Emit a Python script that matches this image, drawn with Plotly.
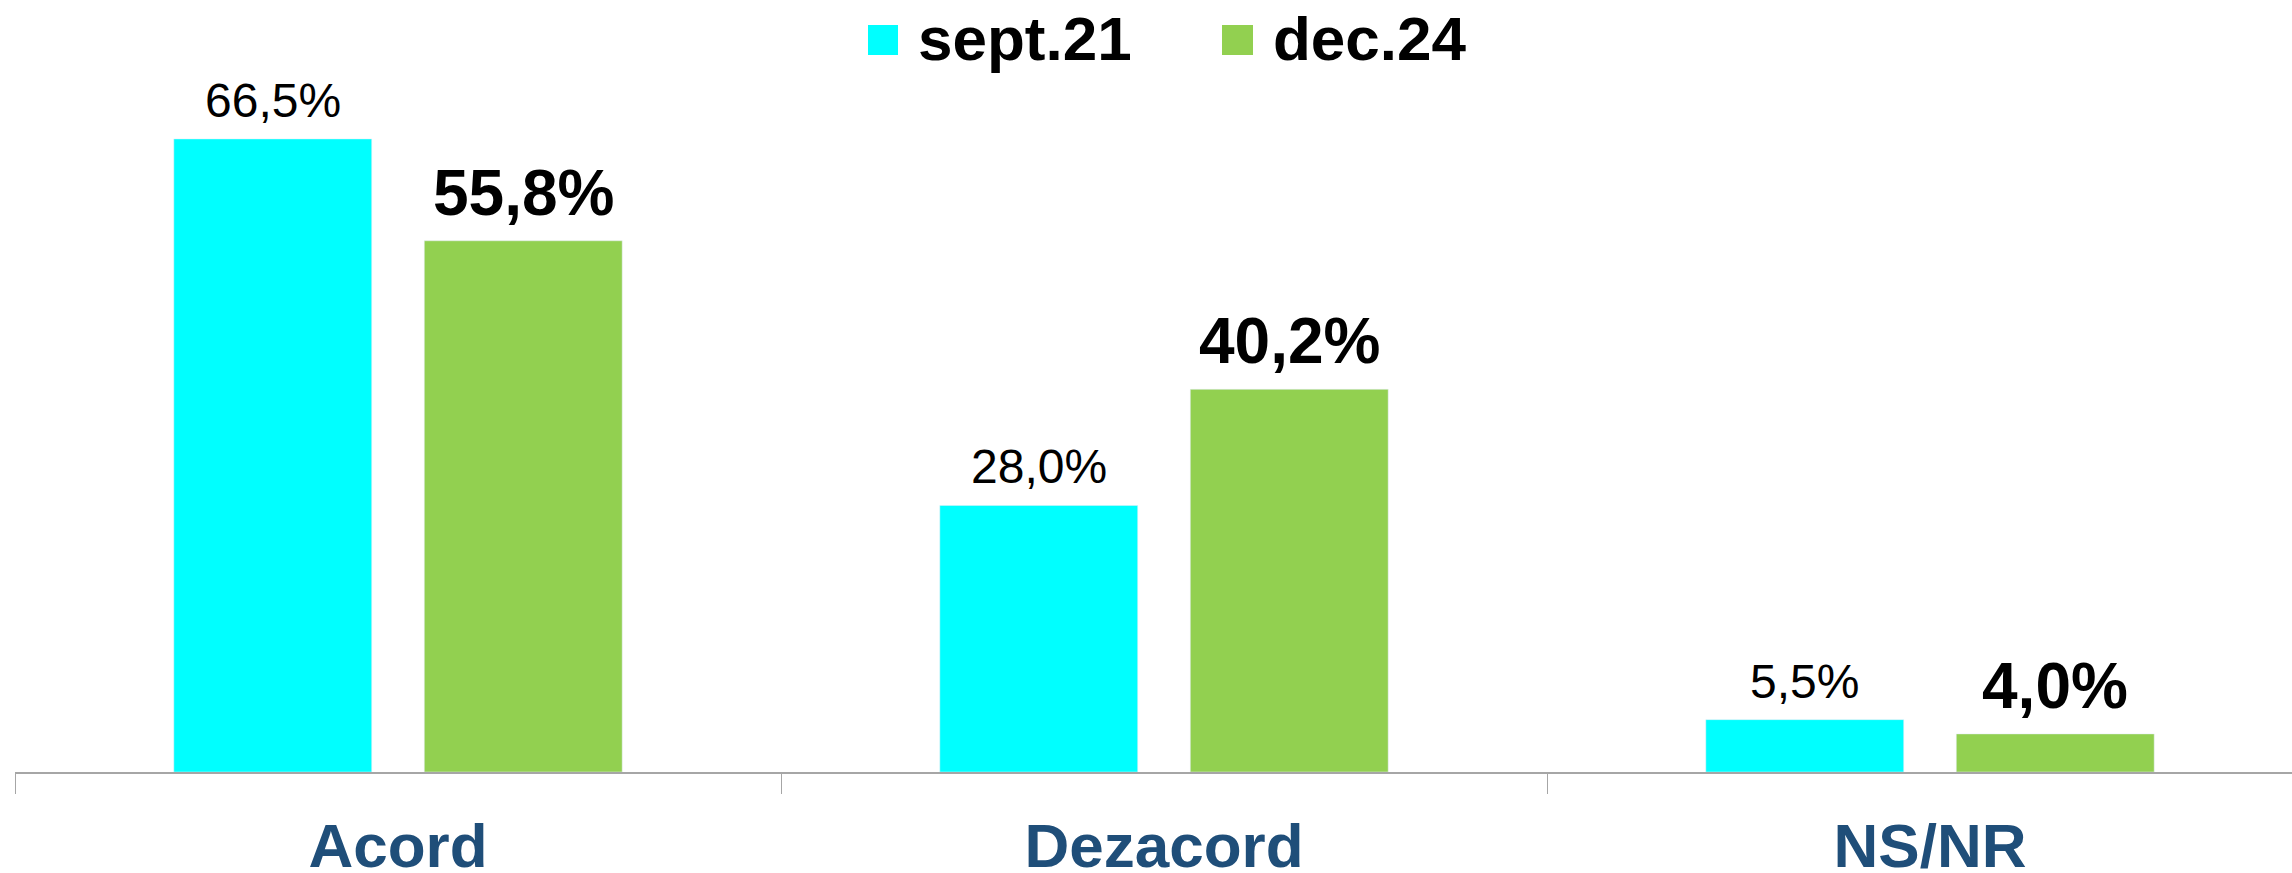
import plotly.graph_objects as go

categories = ["Acord", "Dezacord", "NS/NR"]
series_names = ["sept.21", "dec.24"]
sept21 = [66.5, 28.0, 5.5]
dec24 = [55.8, 40.2, 4.0]
colors = ["#00FFFF", "#92D050"]

W, H = 2292, 873
ML, MT, MB = 15, 100, 101
plot_w = W - ML
plot_h = H - MT - MB
CAT_PX = 766.0
BARGAP, BARGROUPGAP = 0.346, 0.21

def fmt(v):
    return f"{v:.1f}%".replace(".", ",")

fig = go.Figure()
fig.add_trace(go.Bar(x=categories, y=sept21, name=series_names[0], marker_color=colors[0]))
fig.add_trace(go.Bar(x=categories, y=dec24, name=series_names[1], marker_color=colors[1]))

# data labels as annotations above each bar
slot_px = CAT_PX * (1 - BARGAP) / 2
label_styles = [
    dict(size=48, bold=False),
    dict(size=64, bold=True),
]
annotations = []
for i, vals in enumerate([sept21, dec24]):
    xshift = (i - 0.5) * slot_px
    for cat, v in zip(categories, vals):
        t = fmt(v)
        if label_styles[i]["bold"]:
            t = f"<b>{t}</b>"
        annotations.append(dict(
            x=cat, y=v, xref="x", yref="y", text=t, showarrow=False,
            xanchor="center", yanchor="bottom", xshift=xshift, yshift=10,
            font=dict(family="Arial, Liberation Sans", size=label_styles[i]["size"], color="#000000"),
        ))

# manual legend (large square markers)
def px_to_paper_x(px):
    return (px - ML) / plot_w

def px_to_paper_y(py):
    return (H - MB - py) / plot_h

shapes = []
leg_sq = [(868, 898), (1222, 1253)]
leg_tx = [916, 1271]
for i, name in enumerate(series_names):
    x0, x1 = leg_sq[i]
    shapes.append(dict(type="rect", xref="paper", yref="paper",
                       x0=px_to_paper_x(x0), x1=px_to_paper_x(x1),
                       y0=px_to_paper_y(55), y1=px_to_paper_y(25),
                       fillcolor=colors[i], line=dict(width=0)))
    annotations.append(dict(text=f"<b>{name}</b>", xref="paper", yref="paper",
                            x=px_to_paper_x(leg_tx[i]), y=px_to_paper_y(39),
                            xanchor="left", yanchor="middle", showarrow=False,
                            font=dict(family="Arial, Liberation Sans", size=62, color="#000000")))

fig.update_layout(
    width=W, height=H,
    margin=dict(l=ML, r=0, t=MT, b=MB, autoexpand=False),
    paper_bgcolor="white", plot_bgcolor="white",
    barmode="group", bargap=BARGAP, bargroupgap=BARGROUPGAP,
    showlegend=False,
    shapes=shapes, annotations=annotations,
    xaxis=dict(
        automargin=False,
        range=[-0.5, -0.5 + plot_w / CAT_PX],
        showline=True, linecolor="#A6A6A6", linewidth=2,
        ticks="outside", tickson="boundaries", ticklen=20, tickcolor="#A6A6A6", tickwidth=1,
        ticklabelstandoff=19,
        tickfont=dict(family="Arial, Liberation Sans", size=62, color="#1F4E79"),
        tickprefix="<b>", ticksuffix="</b>",
        showgrid=False, zeroline=False,
    ),
    yaxis=dict(automargin=False, range=[0, plot_h / 9.52], visible=False, showgrid=False, zeroline=False),
)

fig.write_html("out.html", config={"displayModeBar": False},
               post_script="document.body.style.margin='0';document.body.style.overflow='hidden';")
